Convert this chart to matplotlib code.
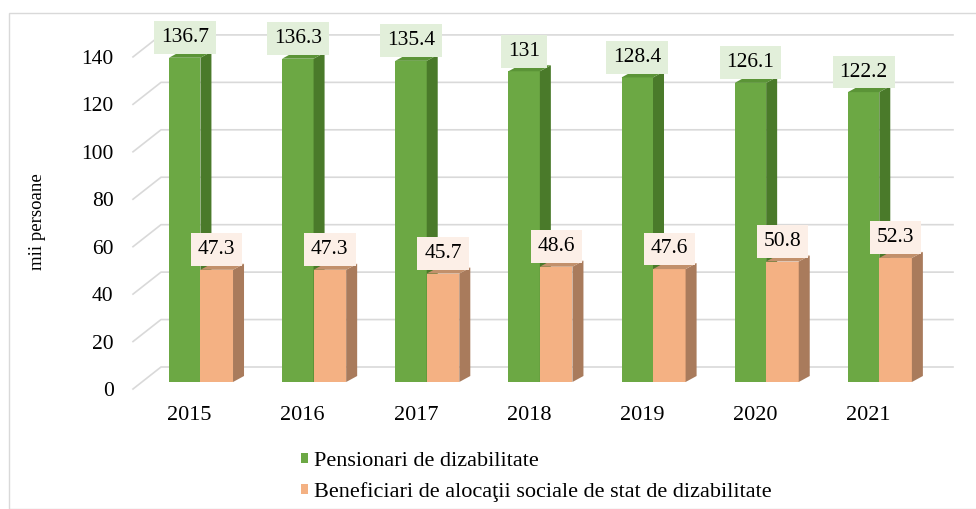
import matplotlib.pyplot as plt
from matplotlib.patches import Polygon, Rectangle, Patch

years = ["2015", "2016", "2017", "2018", "2019", "2020", "2021"]
pensionari = [136.7, 136.3, 135.4, 131, 128.4, 126.1, 122.2]
beneficiari = [47.3, 47.3, 45.7, 48.6, 47.6, 50.8, 52.3]
y_ticks = [0, 20, 40, 60, 80, 100, 120, 140]

label_pens = "Pensionari de dizabilitate"
label_ben = "Beneficiari de alocaţii sociale de stat de dizabilitate"

plt.rcParams['font.family'] = ['Liberation Serif', 'DejaVu Serif']

W, H = 976, 509
fig = plt.figure(figsize=(W / 100, H / 100), dpi=100)

# plot area in pixels: front floor from x=133 to 925, y=0 at 389
px_x0, px_x1, px_y0 = 133, 925, 389
ppu = 2.372  # pixels per value unit
ymax = 150
ax = fig.add_axes([px_x0 / W, (H - px_y0) / H, (px_x1 - px_x0) / W, ymax * ppu / H])
ax.set_xlim(-0.5, len(years) - 0.5)
ax.set_ylim(0, ymax)
cat_px = (px_x1 - px_x0) / len(years)

def dx(p):
    return p / cat_px

def dy(p):
    return p / ppu

# back wall gridlines with the little diagonal of the side wall
wx, wy = dx(28), dy(22)
for v in y_ticks:
    ax.plot([-0.5, -0.5 + wx, len(years) - 0.5 + wx], [v, v + wy, v + wy],
            color="#d9d9d9", lw=1.2, clip_on=False, zorder=1)

# 3d-looking columns
b0 = dy(7)
ddx, ddy = dx(11), dy(6)
g_left, g_right, o_right = -0.182, 0.096, 0.384

def column(x0, x1, v, front, side, top):
    y0, y1 = b0, b0 + v
    ax.add_patch(Rectangle((x0, y0), x1 - x0, v, facecolor=front, edgecolor="none", zorder=3))
    ax.add_patch(Polygon([(x1, y0), (x1 + ddx, y0 + ddy), (x1 + ddx, y1 + ddy), (x1, y1)],
                         closed=True, facecolor=side, edgecolor="none", zorder=3))
    ax.add_patch(Polygon([(x0, y1), (x0 + ddx, y1 + ddy), (x1 + ddx, y1 + ddy), (x1, y1)],
                         closed=True, facecolor=top, edgecolor="none", zorder=3))

for i in range(len(years)):
    column(i + g_left, i + g_right, pensionari[i], "#6ca844", "#4a7a2a", "#5b9437")
    column(i + g_right, i + o_right, beneficiari[i], "#f4b183", "#a97b5c", "#c2906b")

for i in range(len(years)):
    ax.annotate(f"{pensionari[i]:g}", (i + (g_left + g_right) / 2, b0 + pensionari[i]),
                xytext=(0, 14.5), textcoords="offset points", ha="center", va="center",
                fontsize=15.5, zorder=5,
                bbox=dict(boxstyle="square,pad=0.32", facecolor="#e2efda", edgecolor="none"))
    ax.annotate(f"{beneficiari[i]:g}", (i + (g_right + o_right) / 2, b0 + beneficiari[i]),
                xytext=(0, 14.5), textcoords="offset points", ha="center", va="center",
                fontsize=15.5, zorder=5,
                bbox=dict(boxstyle="square,pad=0.32", facecolor="#fcefe7", edgecolor="none"))

ax.set_yticks(y_ticks)
ax.set_yticklabels([str(v) for v in y_ticks], fontsize=15.5)
ax.set_xticks(range(len(years)))
ax.set_xticklabels(years, fontsize=16)
ax.tick_params(axis="y", length=0, pad=14)
ax.tick_params(axis="x", length=0, pad=12)
for s in ax.spines.values():
    s.set_visible(False)
ax.patch.set_visible(False)

fig.text(38 / W, 1 - 222 / H, "mii persoane", rotation=90, ha="center", va="center", fontsize=13.5)

handles = [Patch(facecolor="#6ca844", edgecolor="none"), Patch(facecolor="#f4b183", edgecolor="none")]
fig.legend(handles, [label_pens, label_ben], loc="upper left",
           bbox_to_anchor=(301 / W, 1 - 452 / H), frameon=False, fontsize=16,
           handlelength=0.32, handleheight=0.32, handletextpad=0.25, labelspacing=0.5,
           borderpad=0, borderaxespad=0)

fig.patches.append(Rectangle((9 / W, 0), 1, 1 - 13 / H, transform=fig.transFigure,
                             fill=False, edgecolor="#d9d9d9", lw=1))

fig.savefig("out.png", dpi=100)
